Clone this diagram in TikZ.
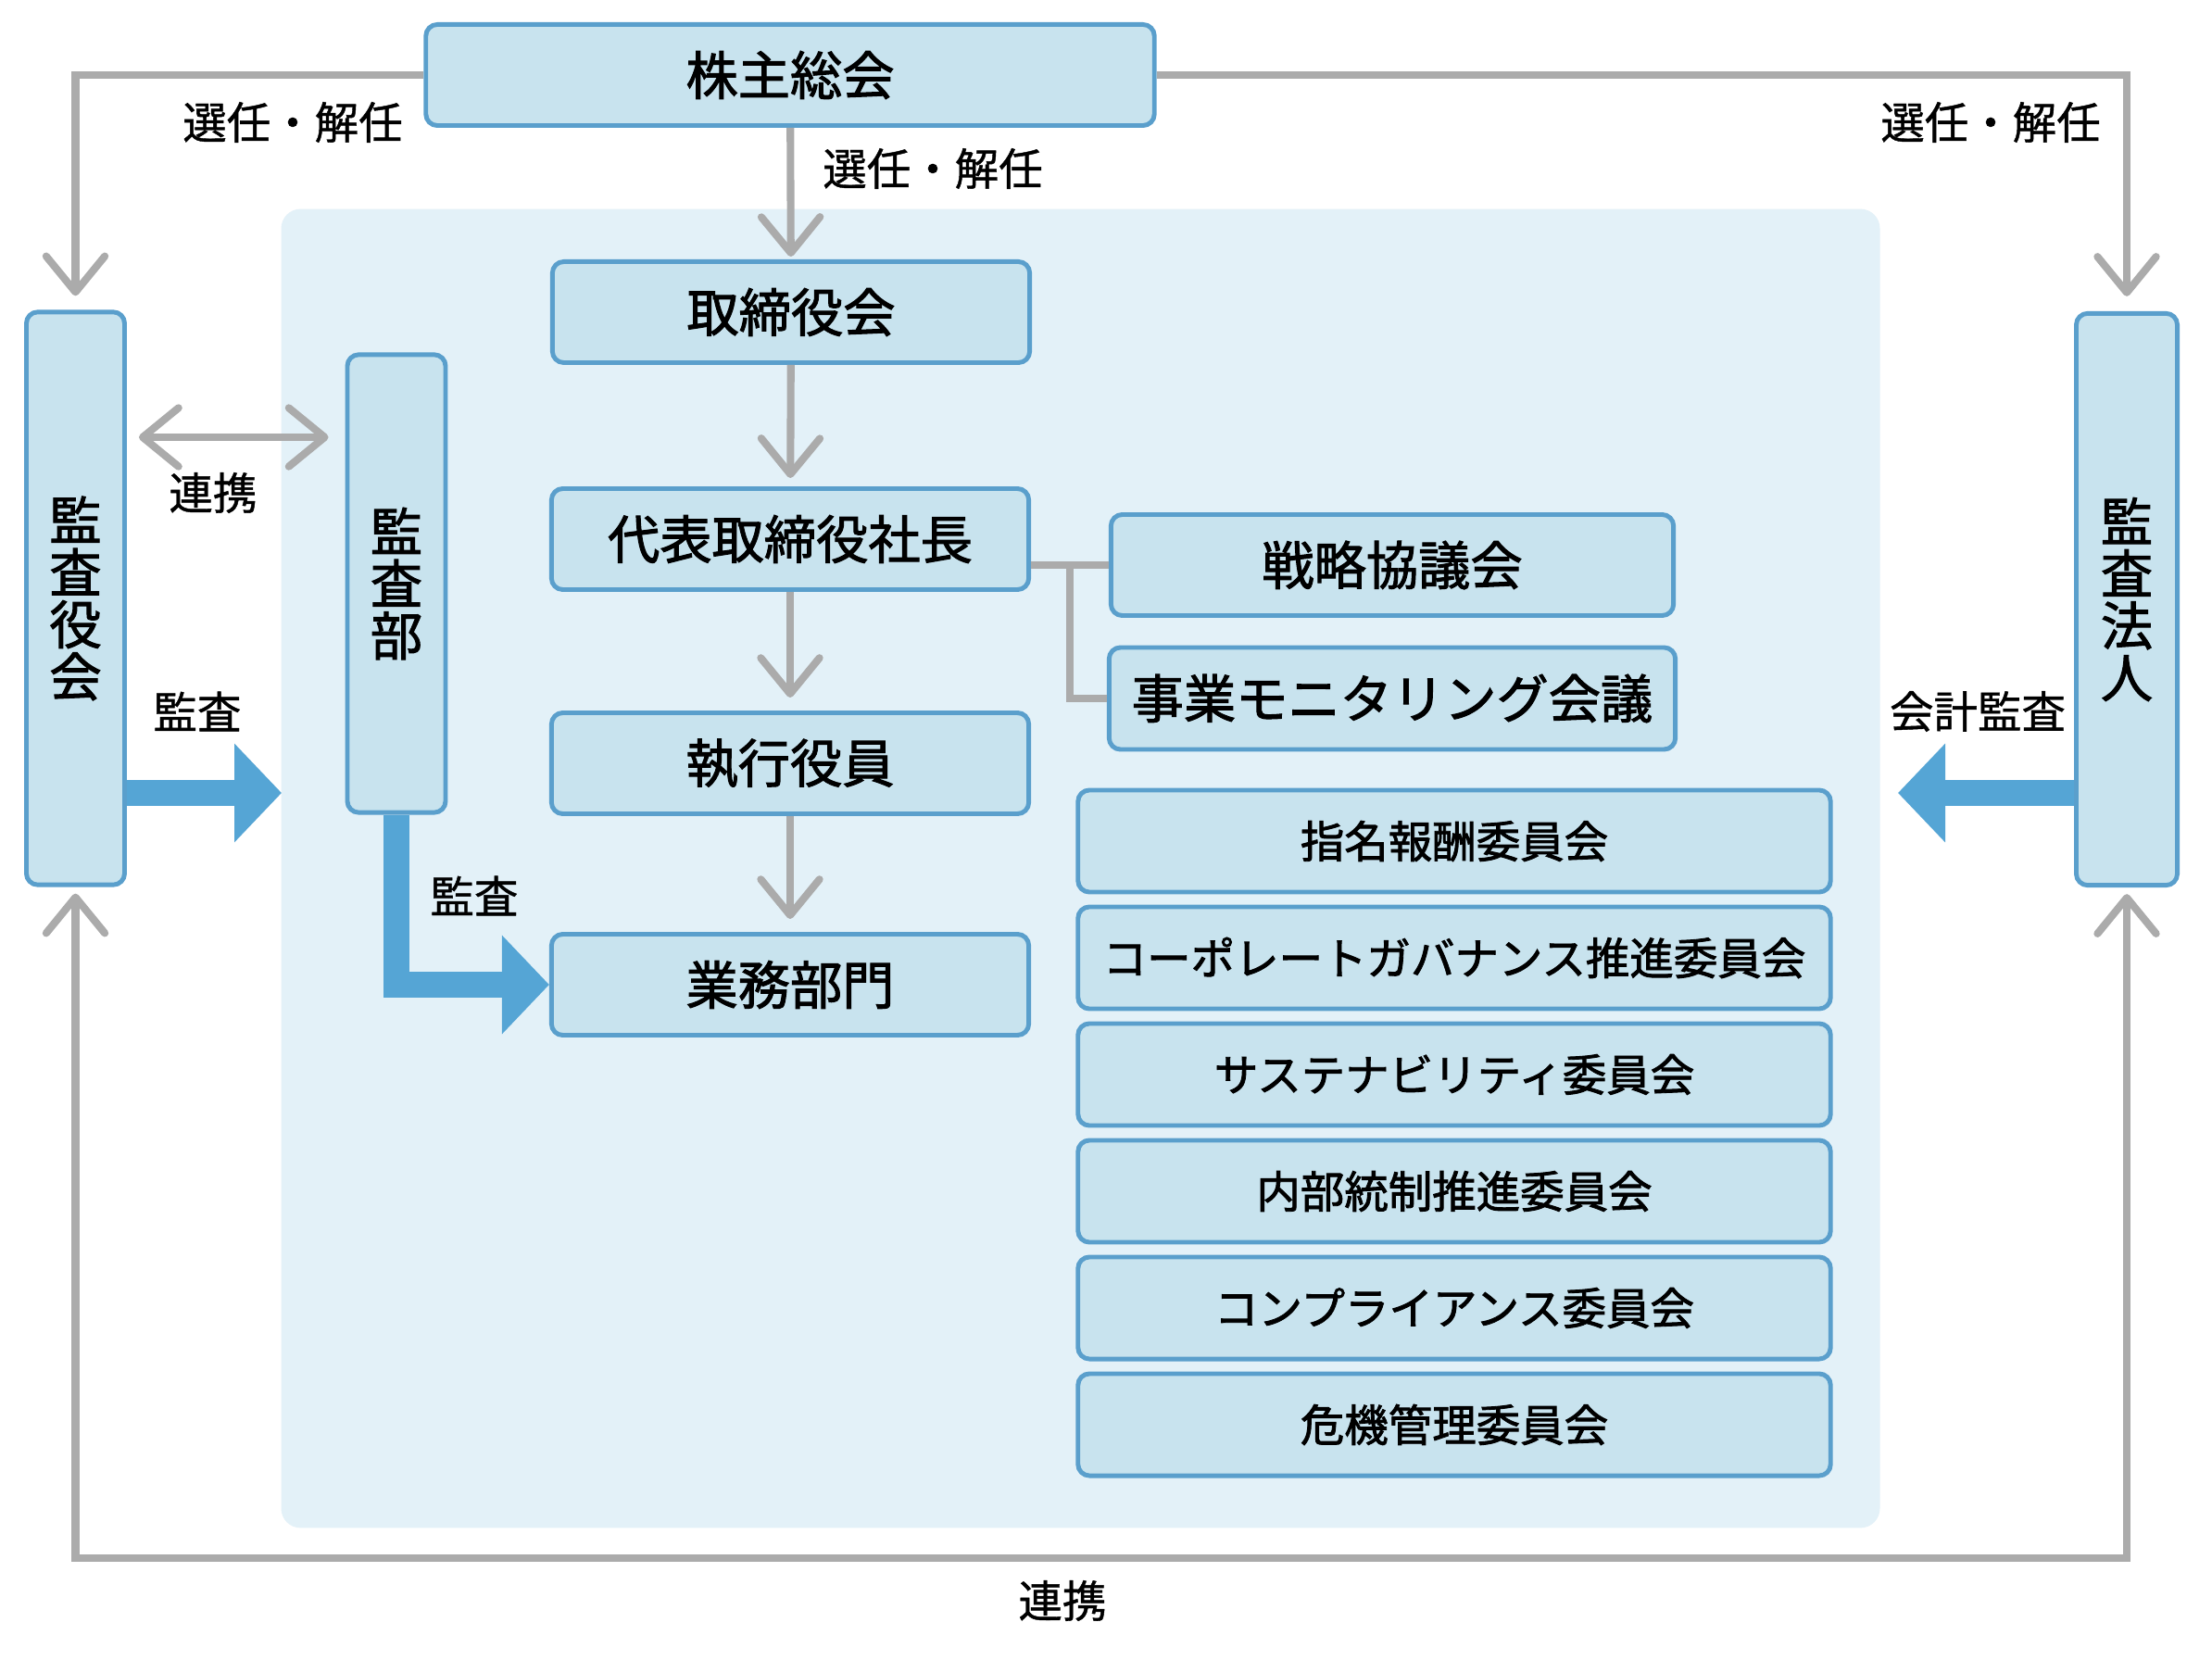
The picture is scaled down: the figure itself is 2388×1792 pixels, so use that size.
\documentclass[tikz,border=0pt]{standalone}
\usepackage{fontspec}
\setmainfont{Noto Sans CJK JP}
\newfontfamily\boxfont[FakeBold=1.8]{Noto Sans CJK JP}
\newfontfamily\lblfont[FakeBold=0.9]{Noto Sans CJK JP}
\usetikzlibrary{arrows.meta}
\definecolor{boxfill}{HTML}{C8E3EE}
\definecolor{boxline}{HTML}{5A9FCC}
\definecolor{panelcol}{HTML}{E3F1F8}
\definecolor{conncol}{HTML}{ABABAB}
\definecolor{auditcol}{HTML}{55A5D5}
\begin{document}
\begin{tikzpicture}[x=0.01cm,y=-0.01cm,
 >={Straight Barb[length=11pt,width=18pt,round]},
 box/.style={draw=boxline, fill=boxfill, line width=1.4pt, rounded corners=3.5pt, inner sep=0pt, align=center, font=\boxfont\fontsize{16pt}{16pt}\selectfont},
 cbox/.style={box, minimum width=8.12cm, minimum height=1.10cm, font=\boxfont\fontsize{13.5pt}{14pt}\selectfont},
 hbox/.style={box, minimum width=5.15cm, minimum height=1.09cm},
 conn/.style={draw=conncol, line width=2.3pt},
 lbl/.style={inner sep=0pt, font=\lblfont\fontsize{13.5pt}{14pt}\selectfont},
 bluearrow/.style={draw=auditcol, line width=8.2pt, -{Triangle[length=14.5pt,width=29.5pt]}}
]
\useasboundingbox (0,0) rectangle (2388,1792);
\fill[white] (0,0) rectangle (2388,1792);
\node[fill=panelcol, rounded corners=6pt, minimum width=17.25cm, minimum height=14.23cm, inner sep=0pt] (panel) at (1166.5,937.5) {};

% main column
\node[box, minimum width=7.86cm, minimum height=1.09cm] (kabu) at (853,81) {株主総会};
\node[hbox] (tori) at (854,337) {取締役会};
\node[hbox] (daihyo) at (853,582) {代表取締役社長};
\node[hbox] (shikko) at (853,824) {執行役員};
\node[hbox] (gyomu) at (853,1063) {業務部門};

% councils
\node[box, minimum width=6.07cm, minimum height=1.09cm] (senryaku) at (1503,610) {戦略協議会};
\node[box, minimum width=6.11cm, minimum height=1.10cm] (jigyo) at (1503,754) {事業モニタリング会議};

% committees
\node[cbox] (c1) at (1570,908) {指名報酬委員会};
\node[cbox] (c2) at (1570,1034) {コーポレートガバナンス推進委員会};
\node[cbox] (c3) at (1570,1160) {サステナビリティ委員会};
\node[cbox] (c4) at (1570,1286) {内部統制推進委員会};
\node[cbox] (c5) at (1570,1412) {コンプライアンス委員会};
\node[cbox] (c6) at (1570,1538) {危機管理委員会};

% vertical boxes
\node[box, minimum width=1.06cm, minimum height=6.18cm] (kansayaku) at (81.5,646) {監\\査\\役\\会};
\node[box, minimum width=1.06cm, minimum height=4.94cm] (kansabu) at (428,630) {監\\査\\部};
\node[box, minimum width=1.09cm, minimum height=6.17cm] (hojin) at (2296,647) {監\\査\\法\\人};

% coordinates
\coordinate (ry) at (0,472);
\coordinate (ay) at (0,856);
\coordinate (ltip) at (304,856);
\coordinate (rtip) at (2049,856);
\coordinate (bx) at (1155,0);
\coordinate (bot) at (0,1682);

% gray connectors
\draw[conn, ->, shorten >=0.15cm] (kabu.west) -| (kansayaku.north);
\draw[conn, ->, shorten >=0.16cm] (kabu.east) -| (hojin.north);
\draw[conn, ->, shorten >=0.03cm] (kabu) -- (tori);
\draw[conn, ->, shorten >=0.09cm] (tori) -- (daihyo);
\draw[conn, ->, shorten >=0.14cm] (daihyo) -- (shikko);
\draw[conn, ->, shorten >=0.14cm] (shikko) -- (gyomu);
\draw[conn] (daihyo.east |- senryaku.west) -- (senryaku.west);
\draw[conn] (bx |- senryaku.west) |- (jigyo.west);
\draw[conn, <->, shorten <=0.13cm, shorten >=0.18cm] (kansayaku.east |- ry) -- (kansabu.west |- ry);
\draw[conn, <->, shorten <=0.07cm, shorten >=0.07cm] (kansayaku.south) -- (kansayaku.south |- bot) -- (hojin.south |- bot) -- (hojin.south);

% blue audit arrows
\draw[bluearrow] (kansayaku.east |- ay) -- (ltip);
\draw[bluearrow] (hojin.west |- ay) -- (rtip);
\draw[bluearrow] (kansabu.south) |- (gyomu.west);

% labels
\node[lbl] (l1) at (316,132) {選任・解任};
\node[lbl] (l2) at (1007,182) {選任・解任};
\node[lbl] (l3) at (2149,132) {選任・解任};
\node[lbl] (l4) at (230,532) {連携};
\node[lbl] (l5) at (213,768) {監査};
\node[lbl] (l6) at (512,967) {監査};
\node[lbl] (l7) at (2135,768) {会計監査};
\node[lbl] (l8) at (1147,1728) {連携};
\end{tikzpicture}
\end{document}
